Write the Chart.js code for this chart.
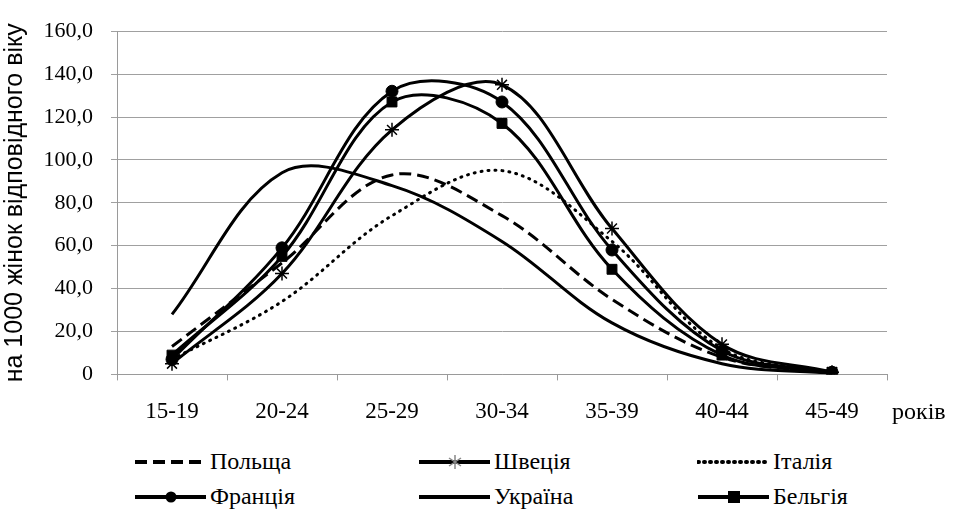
<!DOCTYPE html>
<html>
<head>
<meta charset="utf-8">
<script src="https://cdn.jsdelivr.net/npm/chart.js@4.4.0/dist/chart.umd.min.js"></script>
<style>
body { margin: 0; background: #fff; width: 953px; height: 512px; overflow: hidden; position: relative; }
#wrap { position: absolute; left: 0; top: 0; width: 953px; height: 448px; }
.lbl { position: absolute; font-family: "Liberation Serif", "Times New Roman", serif; font-size: 24px; color: #000; line-height: 26px; white-space: nowrap; }
.smp { position: absolute; }
</style>
</head>
<body>
<div id="wrap"><canvas id="fert"></canvas></div>
<div class="lbl" style="left:892px;top:398px;">років</div>
<div id="legend"></div>
<script>
var ages = ["15-19", "20-24", "25-29", "30-34", "35-39", "40-44", "45-49"];
var poland  = [13, 52, 93, 74, 35, 8, 0.5];
var sweden  = [5, 47, 114, 135, 68, 14, 1];
var italy   = [7, 34, 74, 95, 62, 12, 1];
var france  = [7, 59, 132, 127, 58, 11, 1];
var ukraine = [28, 94, 88, 62, 24, 5, 0.5];
var belgium = [9, 55, 127, 117, 49, 9, 1];
var countries = ["Польща", "Швеція", "Італія", "Франція", "Україна", "Бельгія"];

var serif = "'Liberation Serif', 'Times New Roman', serif";

function line(label, data, dash, point, r) {
    return {
        label: label,
        data: data,
        borderColor: "#000",
        backgroundColor: "#000",
        borderWidth: 3,
        borderDash: dash,
        borderCapStyle: dash.length && dash[0] < 4 ? "round" : "butt",
        pointStyle: point || "circle",
        pointRadius: point ? r : 0,
        pointBorderWidth: point === "star" ? 1.5 : 1,
        tension: 0.35,
        fill: false
    };
}

var ctx = document.getElementById("fert").getContext("2d");
new Chart(ctx, {
    type: "line",
    data: {
        labels: ages,
        datasets: [
            line(countries[0], poland, [12, 6]),
            line(countries[1], sweden, [], "star", 7),
            line(countries[2], italy, [1, 6]),
            line(countries[3], france, [], "circle", 6),
            line(countries[4], ukraine, []),
            line(countries[5], belgium, [], "rect", 7)
        ]
    },
    options: {
        responsive: true,
        maintainAspectRatio: false,
        animation: false,
        layout: { padding: { top: 17, right: 66, bottom: 4, left: 0 } },
        plugins: { legend: { display: false }, tooltip: { enabled: false } },
        scales: {
            x: {
                offset: true,
                grid: { offset: true, drawOnChartArea: false, tickLength: 6, color: "#9a9a9a" },
                border: { color: "#9a9a9a" },
                ticks: { color: "#000", padding: 18, maxRotation: 0,
                    font: { family: serif, size: 23 } }
            },
            y: {
                min: 0,
                max: 160,
                afterFit: function (scale) { scale.width = 117; },
                grid: { color: "#a0a0a0", tickLength: 6 },
                border: { color: "#9a9a9a" },
                ticks: {
                    stepSize: 20, color: "#000", padding: 18,
                    font: { family: serif, size: 22 },
                    callback: function (v) { return v === 0 ? "0" : v.toFixed(1).replace(".", ","); }
                },
                title: {
                    display: true,
                    text: "на 1000 жінок відповідного віку",
                    color: "#000",
                    padding: { top: 0, bottom: 0 },
                    font: { family: "'Liberation Sans', Arial, sans-serif", size: 25 }
                }
            }
        }
    }
});

// legend, 3 columns x 2 rows
var cols = [134, 418, 697];
var rows = [462, 497];
var styles = [
    { dash: "12 6", cap: "butt", mark: null },
    { dash: "", cap: "butt", mark: "star" },
    { dash: "1 5", cap: "round", mark: null },
    { dash: "", cap: "butt", mark: "circle" },
    { dash: "", cap: "butt", mark: null },
    { dash: "", cap: "butt", mark: "rect" }
];
var leg = document.getElementById("legend");
for (var i = 0; i < countries.length; i++) {
    var x = cols[i % 3], y = rows[Math.floor(i / 3)];
    var st = styles[i];
    var svg = '<svg class="smp" width="74" height="20" style="left:' + x + 'px;top:' + (y - 10) + 'px">' +
        '<line x1="1" y1="10" x2="72" y2="10" stroke="#000" stroke-width="4" stroke-linecap="' + st.cap + '"' +
        (st.dash ? ' stroke-dasharray="' + st.dash + '"' : '') + '/>';
    if (st.mark === "circle") svg += '<circle cx="37" cy="10" r="5.5" fill="#000"/>';
    if (st.mark === "rect") svg += '<rect x="31" y="4" width="12" height="12" fill="#000"/>';
    if (st.mark === "star") svg += '<path d="M37 3V17M31 6L43 14M43 6L31 14" stroke="#888" stroke-width="1.5"/>';
    svg += '</svg>';
    leg.insertAdjacentHTML("beforeend", svg +
        '<div class="lbl" style="left:' + (x + 76) + 'px;top:' + (y - 14) + 'px">' + countries[i] + '</div>');
}
</script>
</body>
</html>
